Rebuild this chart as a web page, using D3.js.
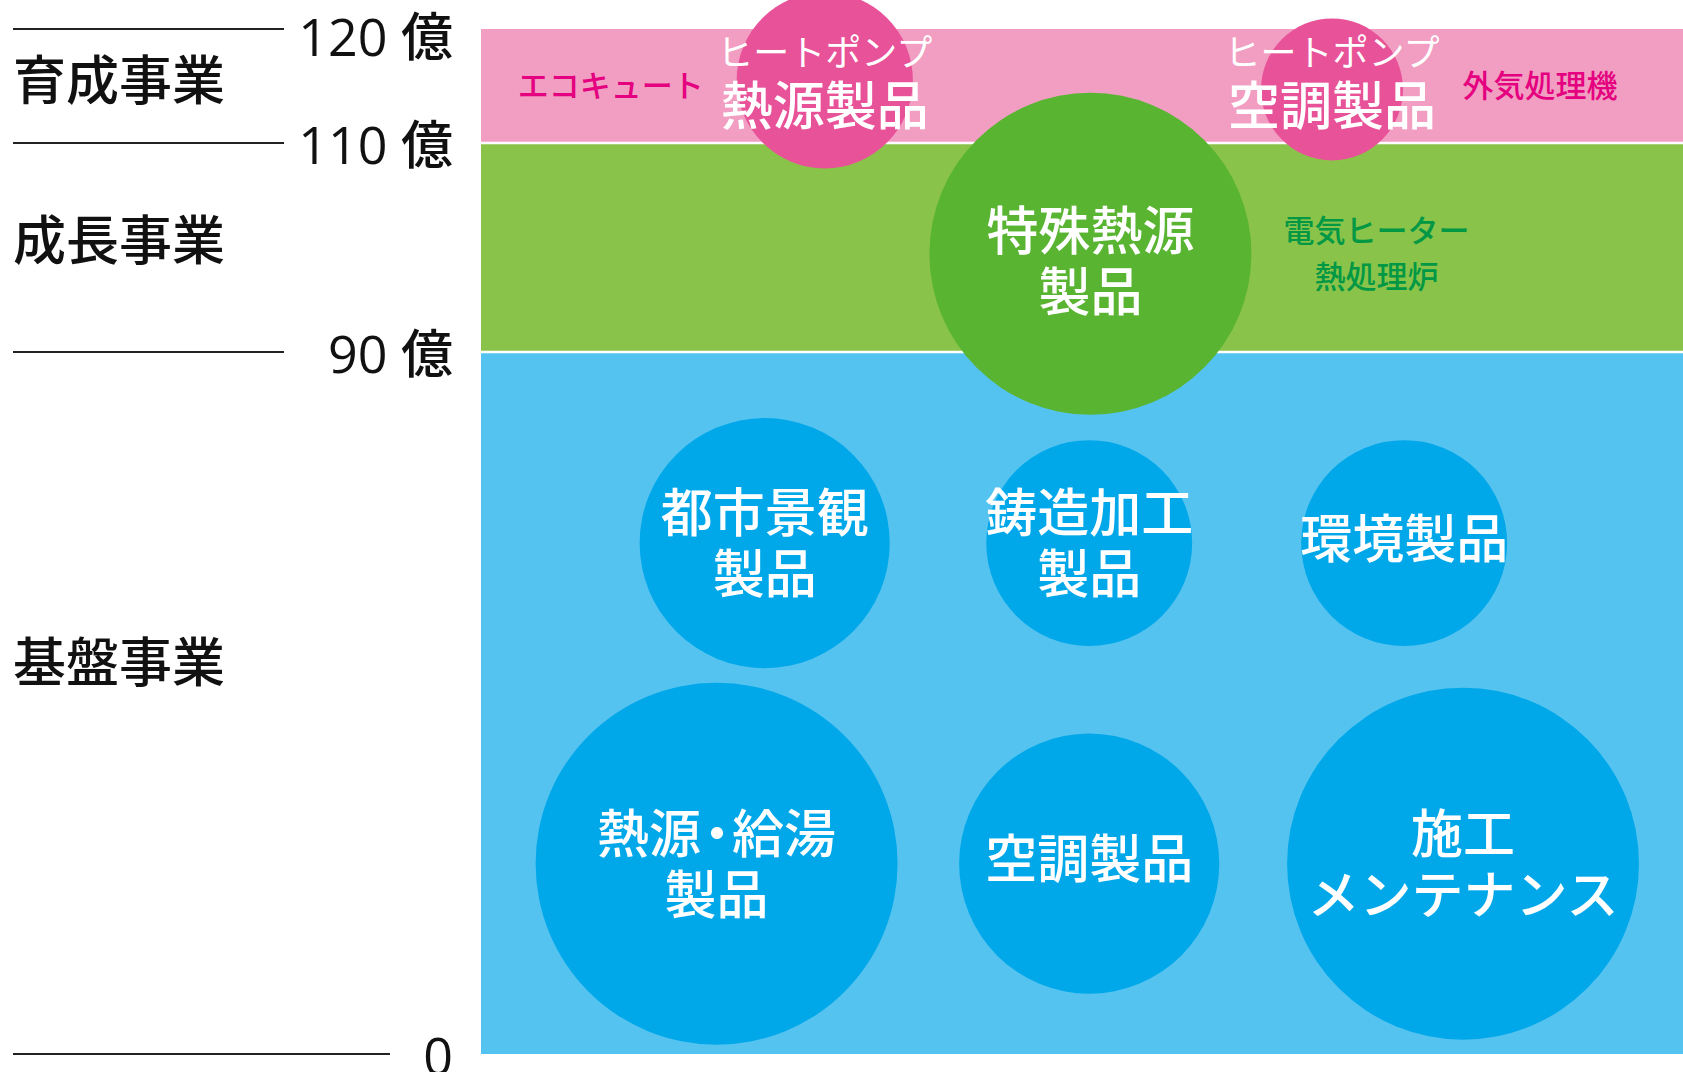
<!DOCTYPE html>
<html><head><meta charset="utf-8">
<script src="https://cdn.jsdelivr.net/npm/d3@7"></script>
<style>html,body{margin:0;padding:0;background:#fff;overflow:hidden}</style>
</head><body><svg id="c" width="1683" height="1072"></svg>
<script>
// ---- data ----
const tickValues = [0, 90, 110, 120];
const tickLabels = ["0", "90 億", "110 億", "120 億"];

const segmentNames = ["基盤事業", "成長事業", "育成事業"];
const segmentFrom = [0, 90, 110];
const segmentTo = [90, 110, 120];
const segmentLabelAt = [50.7, 101, 115.8];

const bubbleLines = [
  ["ヒートポンプ", "熱源製品"],
  ["ヒートポンプ", "空調製品"],
  ["特殊熱源", "製品"],
  ["都市景観", "製品"],
  ["鋳造加工", "製品"],
  ["環境製品"],
  ["熱源・給湯", "製品"],
  ["空調製品"],
  ["施工", "メンテナンス"]
];
const bubbleSegment = [2, 2, 1, 0, 0, 0, 0, 0, 0];
const bubbleX = [28.6, 70.8, 50.7, 23.6, 50.6, 76.8, 19.6, 50.6, 81.7];
const bubbleY = [115.5, 114.7, 99.4, 65.5, 65.5, 65.5, 24.4, 24.4, 24.4];
const bubbleSize = [19.4, 12.6, 64.8, 39.1, 26.5, 26.5, 81.9, 42.3, 77.4];
const bubbleLabelAt = [115.85, 115.85, 98.7, null, null, null, null, null, null];

const noteTexts = ["エコキュート", "外気処理機", "電気ヒーター", "熱処理炉"];
const noteSegment = [2, 2, 1, 1];
const noteX = [10.8, 88.1, 74.5, 74.5];
const noteY = [115.2, 115.2, 101.8, 97.4];

// ---- styles ----
const bandColors = ["#55C3F0", "#8AC349", "#F19EC2"];
const bubbleColors = ["#00A8EA", "#59B431", "#E85298"];
const noteColors = ["#00A8EA", "#009844", "#E4007F"];
const FONT = "'Noto Sans CJK JP', 'Noto Sans', sans-serif";

const svg = d3.select("#c");
const y = d3.scaleLinear().domain([0, 90, 110, 120]).range([1054, 352, 143, 29]);
const x = d3.scaleLinear().domain([0, 100]).range([481, 1683]);
const r = d3.scaleSqrt().domain([0, 100]).range([0, 200]);

// bands
svg.append("g").selectAll("rect").data(segmentNames).join("rect")
  .attr("x", x(0)).attr("width", x(100) - x(0))
  .attr("y", (d, i) => y(segmentTo[i]))
  .attr("height", (d, i) => y(segmentFrom[i]) - y(segmentTo[i]))
  .attr("fill", (d, i) => bandColors[i]);

// separators
svg.append("g").selectAll("line").data([90, 110]).join("line")
  .attr("x1", x(0)).attr("x2", x(100))
  .attr("y1", d => y(d)).attr("y2", d => y(d))
  .attr("stroke", "#fff").attr("stroke-width", 2.5);

// axis lines + labels (left)
const ax = svg.append("g");
ax.selectAll("line").data(tickValues).join("line")
  .attr("x1", 13).attr("x2", d => d === 0 ? 390 : 284)
  .attr("y1", d => y(d)).attr("y2", d => y(d))
  .attr("stroke", "#222").attr("stroke-width", 2);
ax.selectAll("text").data(tickValues).join("text")
  .attr("x", 453).attr("y", d => Math.max(y(d), 35))
  .attr("text-anchor", "end").attr("dominant-baseline", "central")
  .attr("font-family", "'Open Sans', 'Noto Sans CJK JP', sans-serif")
  .attr("font-size", 52).attr("font-weight", 500).attr("fill", "#111")
  .text((d, i) => tickLabels[i]);

// segment names
svg.append("g").selectAll("text").data(segmentNames).join("text")
  .attr("x", 13).attr("y", (d, i) => y(segmentLabelAt[i]))
  .attr("dominant-baseline", "central")
  .attr("font-family", FONT).attr("font-weight", 500)
  .attr("font-size", 53).attr("fill", "#111")
  .text(d => d);

// bubbles
const bubbles = bubbleLines.map((lines, i) => ({
  lines, seg: bubbleSegment[i], cx: x(bubbleX[i]), cy: y(bubbleY[i]),
  rr: r(bubbleSize[i]), ly: y(bubbleLabelAt[i] == null ? bubbleY[i] : bubbleLabelAt[i])
}));
svg.append("g").selectAll("circle").data(bubbles).join("circle")
  .attr("cx", d => d.cx).attr("cy", d => d.cy).attr("r", d => d.rr)
  .attr("fill", d => bubbleColors[d.seg]);

// bubble labels
const lg = svg.append("g").attr("font-family", FONT).attr("fill", "#fff").attr("font-weight", 500);
bubbles.forEach(b => {
  const n = b.lines.length;
  const pink = b.seg === 2;
  const gap = pink ? 53 : 61;
  b.lines.forEach((t, j) => {
    const small = pink && j === 0;
    const off = pink ? 0 : (n === 1 ? -8 : -3);
    const txt = lg.append("text")
      .attr("x", b.cx).attr("y", b.ly + (j - (n - 1) / 2) * gap + off)
      .attr("text-anchor", "middle").attr("dominant-baseline", "central")
      .attr("font-size", small ? 36 : 52)
      .attr("font-weight", small ? 400 : 500);
    // narrow middle dot like the reference
    const parts = t.split("・");
    if (parts.length > 1) {
      txt.append("tspan").text(parts[0]);
      txt.append("tspan").attr("dx", -10).text("・");
      txt.append("tspan").attr("dx", -11).text(parts[1]);
    } else {
      txt.text(t);
    }
  });
});

// notes
svg.append("g").selectAll("text").data(noteTexts).join("text")
  .attr("x", (d, i) => x(noteX[i])).attr("y", (d, i) => y(noteY[i]))
  .attr("text-anchor", "middle").attr("dominant-baseline", "central")
  .attr("font-family", FONT).attr("font-weight", 500)
  .attr("font-size", 31).attr("fill", (d, i) => noteColors[noteSegment[i]])
  .text(d => d);
</script></body></html>
